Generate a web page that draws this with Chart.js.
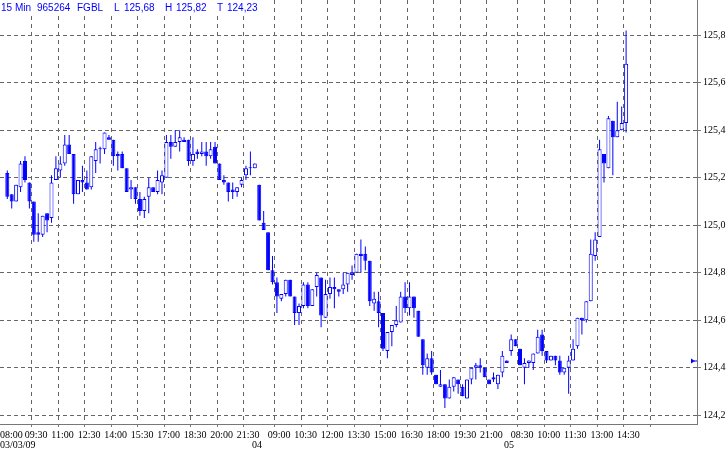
<!DOCTYPE html>
<html>
<head>
<meta charset="utf-8">
<style>
html,body{margin:0;padding:0;background:#fff;overflow:hidden}
#wrap{width:728px;height:454px;position:relative}
</style>
<script src="https://cdn.jsdelivr.net/npm/chart.js@4/dist/chart.umd.min.js"></script>
</head>
<body>
<div id="wrap"><canvas id="c" width="728" height="454"></canvas></div>
<script>
// ---- data: FGBL 15-minute candles, 03/03/09 08:00 ... 05/03/09 14:30 ----
const openP = [
125.22,125.13,125.10,125.16,125.27,125.18,125.10,124.97,124.96,125.05,
125.03,125.19,125.23,125.26,125.34,125.30,125.13,125.19,125.18,125.16,
125.27,125.32,125.32,125.37,125.36,125.30,125.30,125.24,125.15,125.16,
125.11,125.06,125.12,125.16,125.14,125.18,125.20,125.35,125.33,125.35,
125.36,125.36,125.27,125.31,125.30,125.31,125.29,125.33,125.26,125.19,
125.18,125.15,125.14,125.17,125.21,125.24,125.24,125.17,125.01,124.97,
124.81,124.76,124.69,124.71,124.77,124.70,124.63,124.66,124.75,124.66,
124.74,124.78,124.61,124.71,124.74,124.73,124.73,124.75,124.79,124.80,
124.88,124.88,124.85,124.67,124.68,124.63,124.47,124.55,124.58,124.59,
124.70,124.65,124.70,124.64,124.52,124.40,124.44,124.37,124.32,124.33,
124.27,124.32,124.35,124.32,124.27,124.35,124.40,124.41,124.40,124.35,
124.36,124.33,124.38,124.43,124.47,124.52,124.48,124.40,124.42,124.42,
124.46,124.54,124.47,124.43,124.45,124.43,124.38,124.40,124.43,124.49,
124.61,124.60,124.68,124.87,124.95,125.30,125.24,125.44,125.37,125.40,
125.43
];
const highP = [
125.23,125.13,125.17,125.27,125.29,125.18,125.10,125.05,125.04,125.05,
125.21,125.29,125.29,125.38,125.38,125.30,125.19,125.25,125.23,125.29,
125.35,125.33,125.39,125.38,125.36,125.31,125.31,125.24,125.19,125.16,
125.14,125.12,125.20,125.16,125.23,125.23,125.38,125.38,125.40,125.40,
125.37,125.36,125.37,125.32,125.35,125.35,125.35,125.35,125.26,125.21,
125.18,125.18,125.16,125.20,125.25,125.31,125.26,125.17,125.06,124.97,
124.87,124.78,124.71,124.77,124.77,124.70,124.67,124.76,124.76,124.73,
124.80,124.78,124.77,124.78,124.78,124.73,124.80,124.80,124.83,124.88,
124.94,124.91,124.85,124.72,124.72,124.63,124.55,124.58,124.66,124.72,
124.76,124.76,124.70,124.64,124.52,124.46,124.47,124.37,124.39,124.33,
124.35,124.36,124.35,124.33,124.35,124.40,124.42,124.44,124.40,124.35,
124.38,124.37,124.47,124.43,124.54,124.52,124.48,124.44,124.43,124.46,
124.56,124.56,124.47,124.45,124.45,124.45,124.40,124.45,124.52,124.61,
124.61,124.68,124.94,124.97,125.36,125.30,125.46,125.44,125.52,125.50,
125.82
];
const lowP = [
125.11,125.07,125.10,125.14,125.18,125.07,124.93,124.93,124.95,124.97,
125.01,125.19,125.20,125.25,125.30,125.09,125.13,125.14,125.15,125.15,
125.22,125.26,125.30,125.36,125.25,125.23,125.24,125.14,125.11,125.09,
125.04,125.03,125.05,125.14,125.13,125.13,125.20,125.28,125.33,125.31,
125.35,125.25,125.25,125.28,125.29,125.25,125.28,125.26,125.19,125.17,
125.10,125.11,125.12,125.16,125.19,125.21,125.24,125.02,124.98,124.81,
124.75,124.63,124.68,124.70,124.70,124.58,124.58,124.65,124.65,124.66,
124.70,124.57,124.61,124.69,124.65,124.70,124.71,124.72,124.77,124.80,
124.80,124.81,124.66,124.64,124.57,124.47,124.44,124.49,124.57,124.59,
124.63,124.62,124.61,124.53,124.37,124.37,124.37,124.33,124.32,124.23,
124.27,124.30,124.29,124.28,124.27,124.33,124.35,124.38,124.36,124.33,
124.34,124.31,124.36,124.42,124.45,124.49,124.41,124.33,124.40,124.39,
124.46,124.45,124.42,124.43,124.41,124.37,124.37,124.29,124.43,124.48,
124.54,124.59,124.68,124.85,124.95,125.18,125.24,125.21,125.37,125.40,
125.39
];
const closeP = [
125.12,125.10,125.17,125.26,125.19,125.10,124.96,124.96,125.04,125.02,
125.18,125.24,125.26,125.34,125.30,125.13,125.19,125.18,125.15,125.29,
125.32,125.32,125.39,125.36,125.29,125.29,125.24,125.14,125.16,125.11,
125.06,125.11,125.16,125.14,125.19,125.21,125.35,125.33,125.35,125.37,
125.35,125.27,125.30,125.30,125.31,125.29,125.32,125.26,125.19,125.18,
125.14,125.14,125.16,125.19,125.24,125.24,125.26,125.02,124.98,124.81,
124.76,124.70,124.71,124.77,124.70,124.63,124.66,124.75,124.66,124.73,
124.79,124.62,124.71,124.74,124.73,124.72,124.75,124.80,124.80,124.88,
124.87,124.85,124.68,124.69,124.63,124.48,124.55,124.58,124.60,124.70,
124.65,124.70,124.65,124.53,124.41,124.44,124.38,124.33,124.33,124.27,
124.32,124.36,124.33,124.28,124.35,124.40,124.41,124.40,124.36,124.33,
124.35,124.37,124.45,124.42,124.52,124.49,124.41,124.42,124.43,124.46,
124.53,124.47,124.43,124.45,124.43,124.38,124.40,124.43,124.48,124.61,
124.60,124.68,124.88,124.94,125.32,125.26,125.45,125.37,125.40,125.43,
125.68
];

// time-axis ticks (candle slot index where the gridline sits)
const timeTickIdx = [0,6,12,18,24,30,36,42,48,54,61,67,73,79,85,91,97,103,109,116,122,128,134,140,146];
const timeTickLbl = ['08:00','09:30','11:00','12:30','14:00','15:30','17:00','18:30','20:00','21:30',
                     '09:00','10:30','12:00','13:30','15:00','16:30','18:00','19:30','21:00',
                     '08:30','10:00','11:30','13:00','14:30',''];
const dateIdx = [0,57,114];
const dateLbl = ['03/03/09','04','05'];

// price axis ticks
const yTicks = [124.2,124.4,124.6,124.8,125.0,125.2,125.4,125.6,125.8];

// header values
const symbolName = 'FGBL';
const contractId = '965264';
const periodName = '15 Min';
const lastPrice = 125.68;
const highPrice = 125.82;
const lowPrice = 124.23;
const prevClose = 124.43;

// ---- styles / layout ----
const BLUE = '#0000ff';
const GRID = '#666666';
const AXIS = '#777777';
const X_MIN = -1.65, X_MAX = 156.04;
const Y_MAX = 125.9482, Y_MIN = 124.1629;

const idx = openP.map((_, i) => i);
const bodies = idx.map(i => ({x: i, y: [openP[i], closeP[i]]}));
const wicks = idx.map(i => ({x: i, y: [lowP[i], highP[i]]}));
const isUp = idx.map(i => closeP[i] > openP[i]);
const fmt = v => v.toFixed(2).replace('.', ',');

const textPlugin = {
  id: 'texts',
  afterDraw(chart) {
    const {ctx, chartArea} = chart;
    const xs = chart.scales.x, ys = chart.scales.y;
    ctx.save();
    // header band
    ctx.fillStyle = '#ffffff';
    ctx.fillRect(0, 0, 262, 13);
    ctx.fillStyle = BLUE;
    ctx.font = '10px "Liberation Sans"';
    ctx.textAlign = 'left';
    ctx.textBaseline = 'alphabetic';
    const header = [[periodName, 1], [contractId, 37], [symbolName, 77], ['L', 114], [fmt(lastPrice), 124],
                    ['H', 165], [fmt(highPrice), 176], ['T', 217], [fmt(lowPrice), 227]];
    header.forEach(([t, px]) => ctx.fillText(t, px, 10.5));
    // time labels
    ctx.fillStyle = '#000';
    ctx.font = '10px "Liberation Serif"';
    timeTickIdx.forEach((ti, k) => {
      const lbl = timeTickLbl[k];
      if (!lbl) return;
      const w = ctx.measureText(lbl).width;
      const px = xs.getPixelForValue(ti + 0.5);
      ctx.fillText(lbl, Math.max(0, px - w / 2), 437.5);
    });
    dateIdx.forEach((di, k) => {
      const lbl = dateLbl[k];
      const w = ctx.measureText(lbl).width;
      const px = xs.getPixelForValue(di - 0.5);
      ctx.fillText(lbl, Math.max(0, px - w / 2), 447.5);
    });
    // previous-close marker at right edge
    const my = Math.round(ys.getPixelForValue(prevClose));
    const r = chartArea.right;
    ctx.fillStyle = BLUE;
    ctx.beginPath();
    ctx.moveTo(r - 6, my - 2.5);
    ctx.lineTo(r - 2, my);
    ctx.lineTo(r - 6, my + 2.5);
    ctx.closePath();
    ctx.fill();
    ctx.fillRect(r - 3, my - 0.5, 3, 1);
    ctx.restore();
  }
};

new Chart(document.getElementById('c'), {
  type: 'bar',
  data: {
    datasets: [
      {
        label: 'body', data: bodies, order: 0, grouped: false,
        barThickness: 4, minBarLength: 1, inflateAmount: 0,
        borderWidth: 1, borderSkipped: false, borderColor: BLUE,
        backgroundColor: c => isUp[c.dataIndex] ? '#ffffff' : BLUE
      },
      {
        label: 'wick', data: wicks, order: 1, grouped: false,
        barThickness: 1, minBarLength: 1, inflateAmount: 0,
        borderWidth: 0, backgroundColor: BLUE
      }
    ]
  },
  options: {
    responsive: false,
    animation: false,
    devicePixelRatio: 1,
    layout: {padding: 0},
    plugins: {legend: {display: false}, tooltip: {enabled: false}, title: {display: false}},
    scales: {
      x: {
        type: 'linear', min: X_MIN, max: X_MAX, bounds: 'data', offset: false,
        grid: {
          offset: false, lineWidth: 1, tickLength: 3, drawTicks: true,
          color: c => (c.index === 0 ? 'rgba(0,0,0,0)' : GRID),
          tickColor: c => (c.index === 0 ? 'rgba(0,0,0,0)' : AXIS)
        },
        border: {display: true, color: AXIS, width: 1, dash: [4, 4]},
        ticks: {display: false, autoSkip: false},
        afterBuildTicks: s => { s.ticks = timeTickIdx.map(i => ({value: i - 0.5})); },
        afterFit: s => { s.height = 30; s.paddingLeft = 0; s.paddingRight = 0; }
      },
      y: {
        type: 'linear', position: 'right', min: Y_MIN, max: Y_MAX, bounds: 'data',
        grid: {color: GRID, lineWidth: 1, tickLength: 4, tickColor: AXIS},
        border: {display: true, color: AXIS, width: 1, dash: [4, 3]},
        ticks: {
          padding: 2, color: '#000', autoSkip: false,
          font: {family: 'Liberation Serif', size: 10},
          callback: v => v.toFixed(1).replace('.', ',')
        },
        afterBuildTicks: s => { s.ticks = yTicks.map(v => ({value: v})); },
        afterFit: s => { s.width = 31; s.paddingTop = 0; s.paddingBottom = 0; }
      }
    }
  },
  plugins: [textPlugin]
});
</script>
</body>
</html>
